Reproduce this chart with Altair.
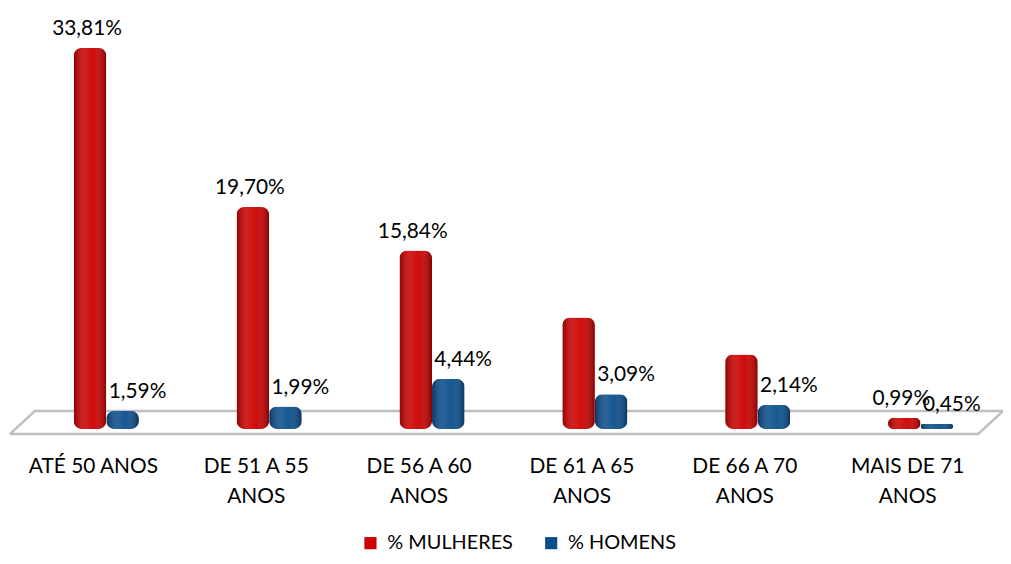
import altair as alt
import pandas as pd

categorias = ["ATÉ 50 ANOS", "DE 51 A 55|ANOS", "DE 56 A 60|ANOS", "DE 61 A 65|ANOS", "DE 66 A 70|ANOS", "MAIS DE 71|ANOS"]
mulheres = [33.81, 19.70, 15.84, 9.9, 6.6, 0.99]
homens = [1.59, 1.99, 4.44, 3.09, 2.14, 0.45]
rot_mulheres = ["33,81%", "19,70%", "15,84%", "", "", "0,99%"]
rot_homens = ["1,59%", "1,99%", "4,44%", "3,09%", "2,14%", "0,45%"]
series = ["% MULHERES", "% HOMENS"]
cores = ["#CC0000", "#0B4E8C"]

rows = []
for i, c in enumerate(categorias):
    rows.append({"cat": c, "serie": series[0], "valor": mulheres[i], "rotulo": rot_mulheres[i]})
    rows.append({"cat": c, "serie": series[1], "valor": homens[i], "rotulo": rot_homens[i]})
df = pd.DataFrame(rows)

FONT = "Lato"

xenc = alt.X("cat:N", sort=categorias,
             scale=alt.Scale(paddingInner=0.6, paddingOuter=0.3),
             axis=alt.Axis(title=None, domain=False, ticks=False, labelAngle=0,
                           labelExpr="split(datum.label, '|')",
                           labelFontSize=21, labelFont=FONT, labelColor="#000000",
                           labelPadding=27, labelLineHeight=30, labelOffset=-13,
                           labelBaseline="top"))
xoff = alt.XOffset("serie:N", sort=series, scale=alt.Scale(domain=series, paddingInner=0))
yenc = alt.Y("valor:Q", scale=alt.Scale(domain=[0, 37.2], nice=False, zero=True),
             axis=None)

base = alt.Chart(df)

floor_df = pd.DataFrame({
    "px": [-15, 10, 985, 960, -15],
    "py": [427, 404, 404, 427, 427],
    "o": [0, 1, 2, 3, 4],
})
floor = alt.Chart(floor_df).mark_line(color="#BFBFBF", strokeWidth=2.5).encode(
    x=alt.X("px:Q", scale=None), y=alt.Y("py:Q", scale=None), order="o:Q")

bars = base.mark_bar(cornerRadius=8, clip=False).encode(
    x=xenc, xOffset=xoff, y=yenc,
    color=alt.Color("serie:N", sort=series,
                    scale=alt.Scale(domain=series, range=cores),
                    legend=alt.Legend(title=None, orient="none", direction="horizontal",
                                      legendX=338, legendY=527, symbolType="square",
                                      symbolSize=150, symbolStrokeWidth=0,
                                      labelFontSize=20, labelFont=FONT, labelColor="#000000",
                                      columnPadding=28, labelOffset=7)))

shade = base.mark_bar(cornerRadius=8, clip=False, color=alt.Gradient(
    gradient="linear", x1=0, x2=1, y1=0, y2=0,
    stops=[alt.GradientStop(offset=0, color="rgba(0,0,0,0.30)"),
           alt.GradientStop(offset=0.35, color="rgba(255,255,255,0.12)"),
           alt.GradientStop(offset=0.6, color="rgba(255,255,255,0.05)"),
           alt.GradientStop(offset=1, color="rgba(0,0,0,0.35)")])).encode(
    x=xenc, xOffset=xoff, y=yenc)

txt_m = base.transform_filter(alt.datum.serie == series[0]).mark_text(
    baseline="bottom", dy=-9, dx=-3, fontSize=21, font=FONT, color="#000000").encode(
    x=xenc, xOffset=xoff, y=yenc, text="rotulo:N")
txt_h = base.transform_filter(alt.datum.serie == series[1]).mark_text(
    baseline="bottom", dy=-9, dx=15, fontSize=21, font=FONT, color="#000000").encode(
    x=xenc, xOffset=xoff, y=yenc, text="rotulo:N")

chart = alt.layer(floor, bars, shade, txt_m, txt_h).properties(
    width=984, height=422,
    background="white",
    autosize=alt.AutoSizeParams(type="none"),
    padding={"left": 17, "top": 0, "right": 1, "bottom": 124},
).configure_view(stroke=None)

chart.save("out.html", embed_options={"renderer": "svg", "actions": False})
